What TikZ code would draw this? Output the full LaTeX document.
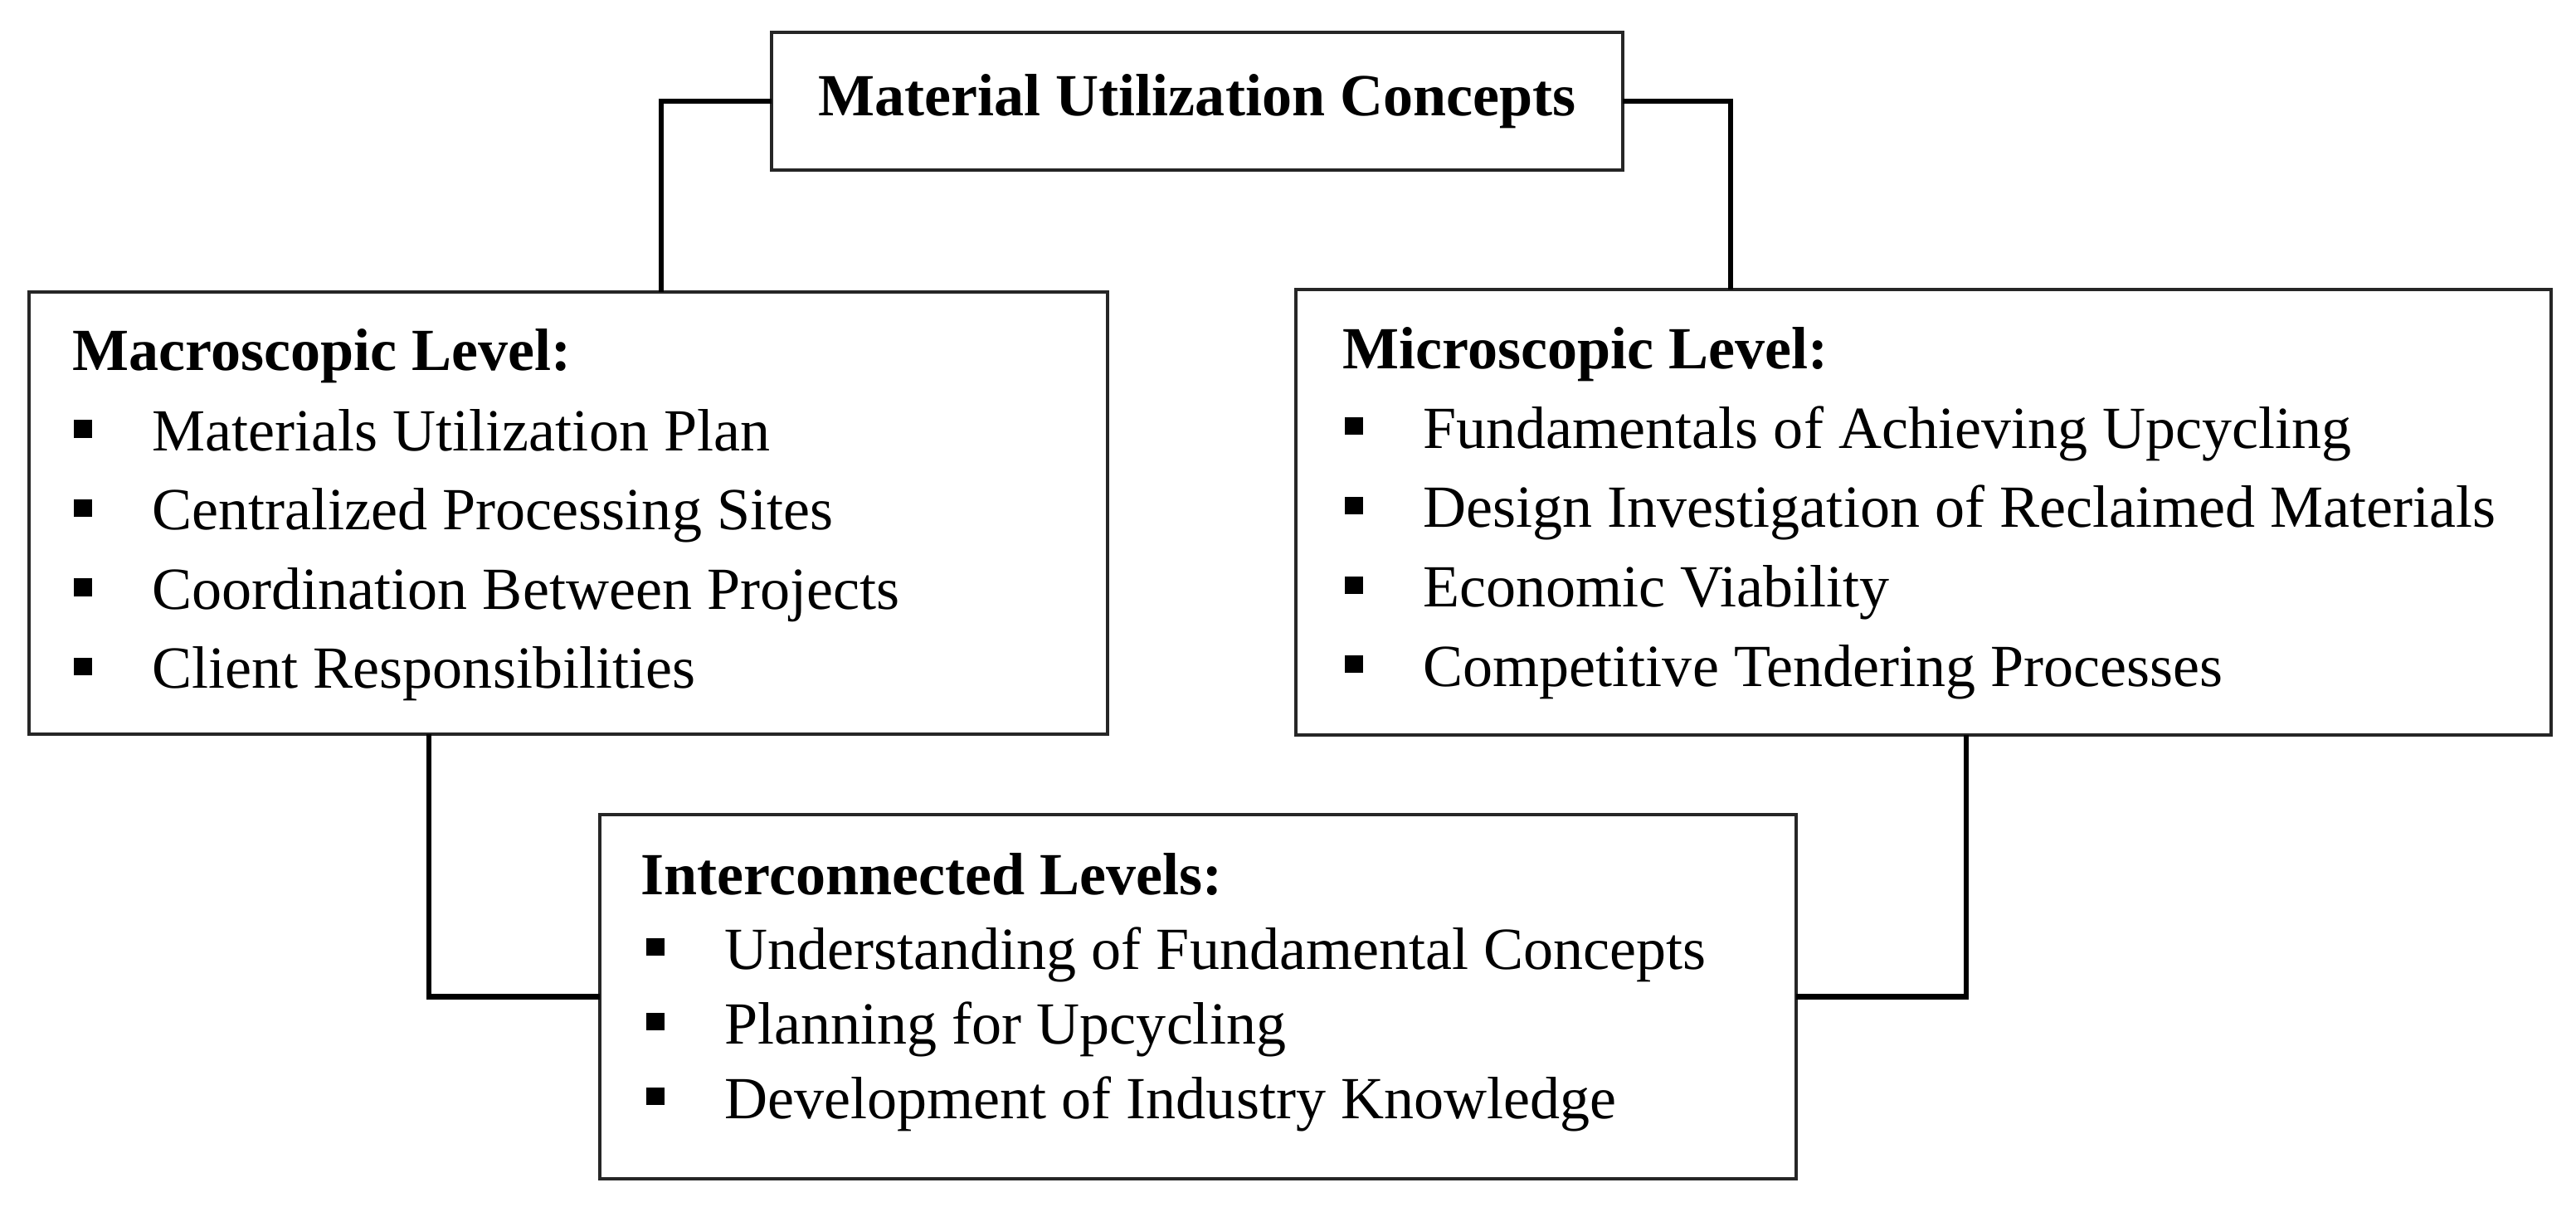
\documentclass[tikz,border=0pt]{standalone}
\usepackage{fontspec}
\setmainfont{Liberation Serif}
\usetikzlibrary{calc}
\newcommand{\bul}{\makebox[0.95cm][l]{\rule[0.16cm]{0.22cm}{0.21cm}}}

\begin{document}
\begin{tikzpicture}[
  box/.style={draw=black!85,line width=1pt,inner sep=0pt,outer sep=0pt,rectangle},
  head/.style={anchor=base west,inner sep=0pt,font=\fontsize{20.5}{24}\selectfont\bfseries},
  entry/.style={anchor=base west,inner sep=0pt,font=\fontsize{20.5}{24}\selectfont},
  link/.style={line width=1.9pt,black}]
\useasboundingbox (0,0) rectangle (31.05,14.54);
\coordinate (TL) at (7.97,12);
\coordinate (TR) at (20.86,12);
\coordinate (BL) at (5.17,3);
\coordinate (BR) at (23.70,3);
\node[box,minimum width=10.26cm,minimum height=1.66cm,font=\fontsize{20.5}{24}\selectfont\bfseries] (T) at (14.43,13.32) {Material Utilization Concepts};
\node[box,minimum width=13cm,minimum height=5.33cm] (MA) at (6.85,8.355) {};
\node[box,minimum width=15.13cm,minimum height=5.37cm] (MI) at (23.185,8.365) {};
\node[box,minimum width=14.42cm,minimum height=4.39cm] (IN) at (14.44,2.525) {};
% headings and bullet lists
\node[head] (MAh) at ($(MA.north west)+(0.52,-0.95)$) {Macroscopic Level:};
\foreach \txt [count=\i] in {Materials Utilization Plan, Centralized Processing Sites, Coordination Between Projects, Client Responsibilities}
  \node[entry] (MA\i) at ($(MA.north west)+(0.53,-0.96-0.955*\i)$) {\bul\txt};
\node[head] (MIh) at ($(MI.north west)+(0.56,-0.96)$) {Microscopic Level:};
\foreach \txt [count=\i] in {Fundamentals of Achieving Upcycling, Design Investigation of Reclaimed Materials, Economic Viability, Competitive Tendering Processes}
  \node[entry] (MI\i) at ($(MI.north west)+(0.58,-0.96-0.955*\i)$) {\bul\txt};
\node[head] (INh) at ($(IN.north west)+(0.49,-0.96)$) {Interconnected Levels:};
\foreach \txt [count=\i] in {Understanding of Fundamental Concepts, Planning for Upcycling, Development of Industry Knowledge}
  \node[entry] (IN\i) at ($(IN.north west)+(0.55,-0.96-0.90*\i)$) {\bul\txt};
% connectors
\draw[link] (T.west) -| (TL |- MA.north);
\draw[link] (T.east) -| (TR |- MI.north);
\draw[link] (BL |- MA.south) |- (IN.west);
\draw[link] (BR |- MI.south) |- (IN.east);
\end{tikzpicture}
\end{document}
